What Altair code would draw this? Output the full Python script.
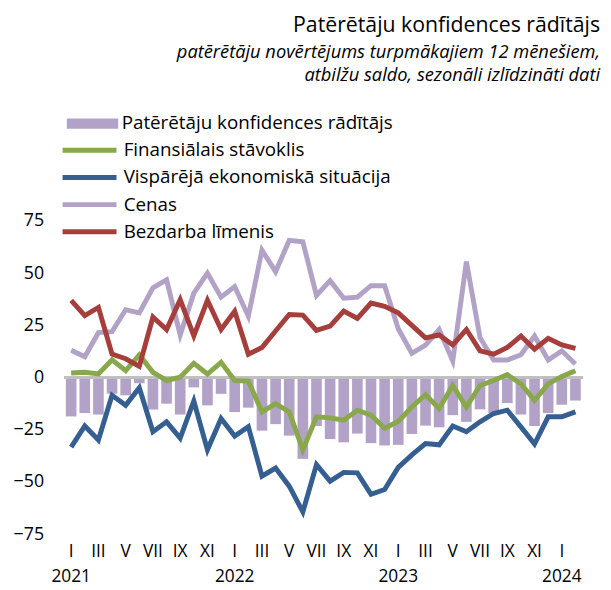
import json
import altair as alt
import pandas as pd

# ---- data ----
idx = list(range(38))  # Jan 2021 .. Feb 2024
roman = ["I", "II", "III", "IV", "V", "VI", "VII", "VIII", "IX", "X", "XI", "XII"]
years = ["2021", "2022", "2023", "2024"]

conf = [-18.6, -17, -17.7, -7.7, -8.5, -2.7, -15.3, -12.5, -17.7, -4.7, -13.3, -7.8,
        -16.5, -14.4, -25.4, -22.3, -27.8, -38.9, -23.2, -29.4, -31, -26.8, -31.4, -32.5,
        -32.2, -27, -23, -23.8, -18, -21.2, -15.2, -17, -12.2, -17.7, -23.2, -17, -13, -11]
fin = [2.2, 2.5, 1.7, 8.5, 3.3, 10.9, 2.5, -1.4, 0.2, 6.8, 1.7, 7.3,
       -1.4, -1.7, -16.4, -12.5, -16.4, -34.6, -18.8, -19.3, -20.4, -15.6, -18, -24.3,
       -21, -14.1, -8.2, -14.8, -3.8, -14.1, -3.8, -1.4, 1.4, -3, -10.9, -3, 0.5, 3.3]
econ = [-33.3, -23.2, -29.9, -8.5, -13.3, -4.9, -25.9, -21.2, -29, -11.2, -34.6, -19.6,
        -28, -23.5, -47.2, -43.3, -52, -64.3, -41.7, -49.6, -45.4, -45.6, -55.9, -53.6,
        -43, -37, -31.6, -32.2, -23.2, -25.9, -21.2, -17.2, -15.6, -23.6, -31.8, -18.8, -18.8, -16.4]
prices = [13.1, 10, 21.5, 22, 32.5, 31, 43, 46.8, 20.4, 40.4, 50, 38.5,
          43.6, 29.4, 61, 50.7, 65.7, 65, 39.3, 46.4, 38, 38.5, 44, 44,
          23.4, 11.6, 15.5, 23, 8, 55.5, 19.1, 8.4, 8.4, 10.9, 19.9, 8.4, 12.8, 6.5]
unemp = [37, 29.7, 33.6, 11.2, 9, 5.4, 29, 23, 37.3, 20, 37, 23,
         31.7, 11.2, 14.4, 22.3, 30.2, 29.9, 22.6, 24.6, 31.8, 28.3, 35.7, 34.1,
         31, 25, 19, 20.4, 15.6, 23, 12.8, 11.2, 14.4, 19.9, 13.6, 18.8, 15.6, 14]

bar_name = "Patērētāju konfidences rādītājs"
line_names = ["Finansiālais stāvoklis", "Vispārējā ekonomiskā situācija", "Cenas", "Bezdarba līmenis"]
line_colors = ["#89a84c", "#365f91", "#b3a2c7", "#a63e3c"]
bar_color = "#b3a2c7"

bars_df = pd.DataFrame({"idx": idx, "value": conf, "series": bar_name})
lines_df = pd.concat([
    pd.DataFrame({"idx": idx, "value": vals, "series": name, "order": k})
    for k, (name, vals) in enumerate(zip(line_names, [fin, econ, prices, unemp]))
], ignore_index=True)

labels = []
for i in idx:
    m = i % 12
    if m % 2 == 0:
        labels.append([roman[m], years[i // 12]] if m == 0 else roman[m])
    else:
        labels.append("")
label_expr = json.dumps(labels, ensure_ascii=False) + "[datum.value]"

FONT = "Open Sans"

x_enc = alt.X(
    "idx:O",
    scale=alt.Scale(paddingInner=0.22, paddingOuter=0.11),
    axis=alt.Axis(title=None, labelExpr=label_expr, labelAngle=0, ticks=False, domain=False,
                  labelFontSize=17.5, labelFont=FONT, labelColor="#000000", labelPadding=9,
                  labelLineHeight=25, labelOverlap=False),
)
y_scale = alt.Scale(domain=[-75, 75], nice=False)
y_axis = alt.Axis(title=None, values=[-75, -50, -25, 0, 25, 50, 75], grid=False, ticks=False,
                  domain=False, labelFontSize=18, labelFont=FONT, labelColor="#000000",
                  labelPadding=21)

bars = alt.Chart(bars_df).mark_bar().encode(
    x=x_enc,
    y=alt.Y("value:Q", scale=y_scale, axis=y_axis),
    fill=alt.Fill("series:N", scale=alt.Scale(domain=[bar_name], range=[bar_color]),
                  legend=alt.Legend(title=None, orient="none", legendX=-2, legendY=-108,
                                    symbolType="M-4,-0.8H4V0.8H-4Z", symbolSize=169,
                                    symbolOffset=21, labelOffset=20, labelFontSize=19,
                                    labelFont=FONT, labelColor="#000000", labelLimit=400,
                                    padding=0, symbolStrokeWidth=0)),
)

zero = alt.Chart(bars_df).mark_rule(color="#bfbfbf", strokeWidth=2).encode(y=alt.datum(0))

lines = alt.Chart(lines_df).mark_line(strokeWidth=5).encode(
    x=x_enc,
    y=alt.Y("value:Q", scale=y_scale, axis=y_axis),
    stroke=alt.Stroke("series:N", sort=line_names,
                      scale=alt.Scale(domain=line_names, range=line_colors),
                      legend=alt.Legend(title=None, orient="none", legendX=-2, legendY=-81,
                                        symbolType="M-4.2,0H4.2", symbolSize=169,
                                        symbolStrokeWidth=5, symbolOffset=18,
                                        labelOffset=25, labelFontSize=19, labelFont=FONT,
                                        labelColor="#000000", labelLimit=400, padding=0,
                                        rowPadding=6.5)),
    order=alt.Order("order:Q"),
)

chart = alt.layer(bars, zero, lines).resolve_scale(fill="independent", stroke="independent").properties(
    width=524,
    height=317,
    autosize=alt.AutoSizeParams(type="none"),
    padding={"left": 57, "top": 212, "right": 21, "bottom": 52},
    title=alt.TitleParams(
        text=bar_name,
        subtitle=["patērētāju novērtējums turpmākajiem 12 mēnešiem,",
                  "atbilžu saldo, sezonāli izlīdzināti dati"],
        anchor="end", orient="top", frame="group", dx=18, offset=30,
        font=FONT, fontSize=21.5, fontWeight="normal", color="#000000",
        subtitleFont=FONT, subtitleFontSize=18.5, subtitleFontStyle="italic",
        subtitleColor="#000000", subtitleLineHeight=23.5, subtitlePadding=7,
    ),
).configure_view(stroke=None)

chart.save("out.html", embed_options={"renderer": "svg", "actions": False})
